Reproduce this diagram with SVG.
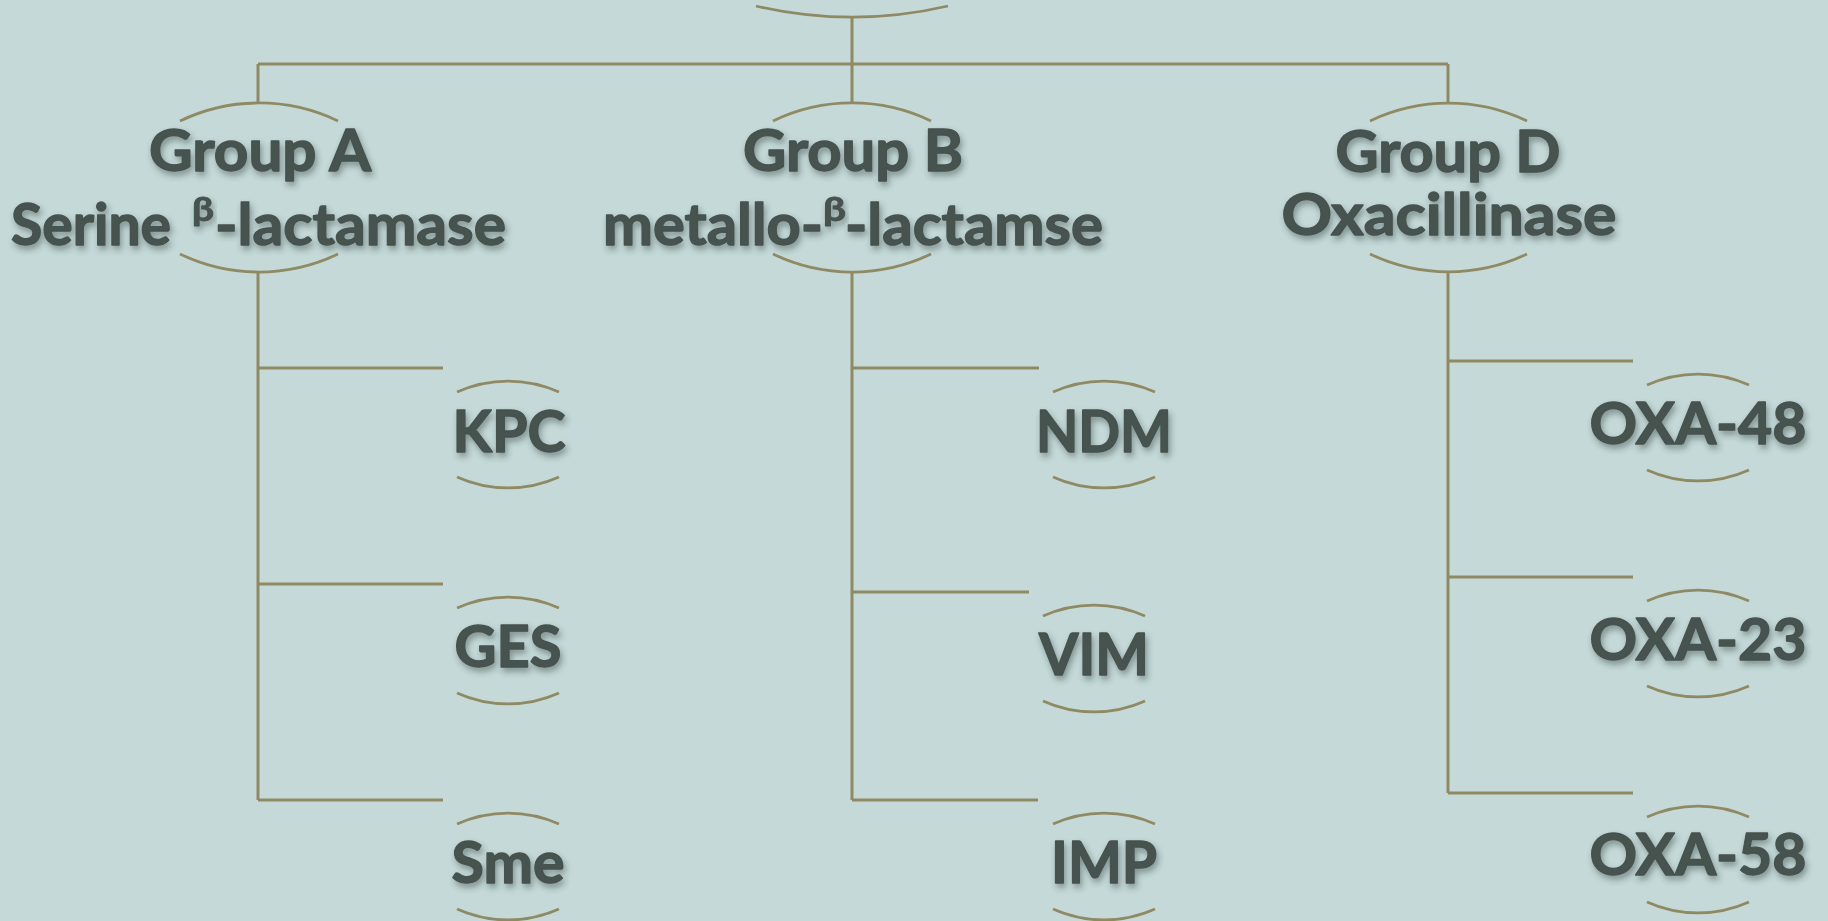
<svg xmlns="http://www.w3.org/2000/svg" width="1828" height="921" viewBox="0 0 1828 921">
<defs>
<style>
.ln{fill:none;stroke:#8f8a64;stroke-width:3}
.arc{fill:none;stroke:#8f8a64;stroke-width:2.8}
.t,.ts,.sup{font-family:Lato,"Noto Sans","Liberation Sans",sans-serif;font-weight:700;fill:#46524f;stroke:#46524f;stroke-width:1.4;stroke-linejoin:round;filter:url(#sh)}
.t{font-size:58px;text-anchor:middle}
.ts{font-size:58px}
.sup{font-size:32px;stroke-width:0.8}
</style>
<filter id="sh" x="-10%" y="-30%" width="120%" height="160%">
<feDropShadow dx="2" dy="4" stdDeviation="3" flood-color="#2b3836" flood-opacity="0.45"/>
</filter>
</defs>
<rect width="1828" height="921" fill="#c4d9d8"/>
<g id="connectors">
<path class="ln" d="M852 17V103M258 64H1448M258 64V103M1448 64V103"/>
<path class="ln" d="M258 272V800M258 368H443M258 584H443M258 800H443"/>
<path class="ln" d="M852 272V800M852 368H1039M852 592H1029M852 800H1038"/>
<path class="ln" d="M1448 272V793M1448 361H1633M1448 577H1633M1448 793H1633"/>
</g>
<g id="root">
<path class="arc" d="M756 6A424 424 0 0 0 948 6"/>
</g>
<g id="groupA">
<path class="arc" d="M180 121A182 182 0 0 1 338 121"/>
<path class="arc" d="M180 254A182 182 0 0 0 338 254"/>
<text class="t" x="260" y="171" textLength="222" lengthAdjust="spacingAndGlyphs">Group A</text>
<text class="ts" x="11" y="245" textLength="160" lengthAdjust="spacingAndGlyphs">Serine</text>
<text class="sup" x="192" y="221" textLength="22" lengthAdjust="spacingAndGlyphs">β</text>
<text class="ts" x="215" y="245" textLength="291" lengthAdjust="spacingAndGlyphs">-lactamase</text>
</g>
<g id="groupB">
<path class="arc" d="M773 121A182 182 0 0 1 931 121"/>
<path class="arc" d="M773 254A182 182 0 0 0 931 254"/>
<text class="t" x="853" y="171" textLength="220" lengthAdjust="spacingAndGlyphs">Group B</text>
<text class="ts" x="603" y="245" textLength="220" lengthAdjust="spacingAndGlyphs">metallo-</text>
<text class="sup" x="823" y="221" textLength="23" lengthAdjust="spacingAndGlyphs">β</text>
<text class="ts" x="845" y="245" textLength="258" lengthAdjust="spacingAndGlyphs">-lactamse</text>
</g>
<g id="groupD">
<path class="arc" d="M1370 121A182 182 0 0 1 1527 121"/>
<path class="arc" d="M1370 254A182 182 0 0 0 1527 254"/>
<text class="t" x="1448" y="172" textLength="225" lengthAdjust="spacingAndGlyphs">Group D</text>
<text class="t" x="1449" y="235" textLength="335" lengthAdjust="spacingAndGlyphs">Oxacillinase</text>
</g>
<g id="KPC">
<path class="arc" d="M457 392A124 124 0 0 1 559 392"/>
<path class="arc" d="M457 477A124 124 0 0 0 559 477"/>
<text class="t" x="509" y="452" textLength="113" lengthAdjust="spacingAndGlyphs">KPC</text>
</g>
<g id="GES">
<path class="arc" d="M457 608A124 124 0 0 1 559 608"/>
<path class="arc" d="M457 693A124 124 0 0 0 559 693"/>
<text class="t" x="508" y="667" textLength="107" lengthAdjust="spacingAndGlyphs">GES</text>
</g>
<g id="Sme">
<path class="arc" d="M457 824A124 124 0 0 1 559 824"/>
<path class="arc" d="M457 909A124 124 0 0 0 559 909"/>
<text class="t" x="508" y="883" textLength="113" lengthAdjust="spacingAndGlyphs">Sme</text>
</g>
<g id="NDM">
<path class="arc" d="M1053 392A124 124 0 0 1 1155 392"/>
<path class="arc" d="M1053 477A124 124 0 0 0 1155 477"/>
<text class="t" x="1104" y="452" textLength="136" lengthAdjust="spacingAndGlyphs">NDM</text>
</g>
<g id="VIM">
<path class="arc" d="M1043 616A124 124 0 0 1 1145 616"/>
<path class="arc" d="M1043 701A124 124 0 0 0 1145 701"/>
<text class="t" x="1094" y="675" textLength="110" lengthAdjust="spacingAndGlyphs">VIM</text>
</g>
<g id="IMP">
<path class="arc" d="M1053 824A124 124 0 0 1 1155 824"/>
<path class="arc" d="M1053 909A124 124 0 0 0 1155 909"/>
<text class="t" x="1104" y="883" textLength="106" lengthAdjust="spacingAndGlyphs">IMP</text>
</g>
<g id="OXA-48">
<path class="arc" d="M1647 385A124 124 0 0 1 1749 385"/>
<path class="arc" d="M1647 470A124 124 0 0 0 1749 470"/>
<text class="t" x="1698" y="444" textLength="217" lengthAdjust="spacingAndGlyphs">OXA-48</text>
</g>
<g id="OXA-23">
<path class="arc" d="M1647 601A124 124 0 0 1 1749 601"/>
<path class="arc" d="M1647 686A124 124 0 0 0 1749 686"/>
<text class="t" x="1698" y="660" textLength="217" lengthAdjust="spacingAndGlyphs">OXA-23</text>
</g>
<g id="OXA-58">
<path class="arc" d="M1647 817A124 124 0 0 1 1749 817"/>
<path class="arc" d="M1647 902A124 124 0 0 0 1749 902"/>
<text class="t" x="1698" y="875" textLength="217" lengthAdjust="spacingAndGlyphs">OXA-58</text>
</g>
</svg>
